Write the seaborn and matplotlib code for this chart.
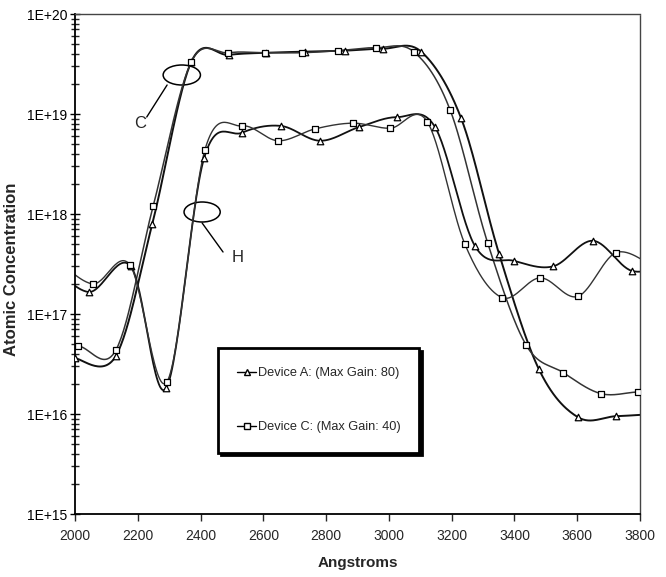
import numpy as np
import matplotlib
matplotlib.use("Agg")
import matplotlib.pyplot as plt
import seaborn as sns
from matplotlib.lines import Line2D
from matplotlib.patches import Ellipse

# Values (x in Angstroms, y in atoms/cm3)
# points outside 2000-3800 are there only so the curve runs to the frame
c_dev_a_x = [2000, 2130, 2246, 2370, 2490, 2610, 2733, 2860, 2981, 3103, 3230, 3351, 3478, 3602, 3723, 3846]
c_dev_a_y = [3.6e16, 3.8e16, 7.9e17, 3.3e19, 3.9e19, 4.1e19, 4.2e19, 4.3e19, 4.5e19, 4.2e19, 9.1e18, 4.0e17, 2.8e16, 9.3e15, 9.5e15, 1.0e16]

c_dev_c_x = [1891, 2010, 2131, 2249, 2370, 2487, 2605, 2723, 2838, 2959, 3079, 3195, 3315, 3437, 3555, 3675, 3793, 3912]
c_dev_c_y = [5.5e16, 4.8e16, 4.4e16, 1.2e18, 3.3e19, 4.1e19, 4.1e19, 4.1e19, 4.3e19, 4.6e19, 4.2e19, 1.1e19, 5.1e17, 4.9e16, 2.6e16, 1.6e16, 1.66e16, 1.7e16]

h_dev_a_x = [1921, 2045, 2178, 2290, 2411, 2532, 2656, 2781, 2905, 3026, 3147, 3274, 3399, 3524, 3650, 3774, 3898]
h_dev_a_y = [3.2e17, 1.66e17, 3.0e17, 1.8e16, 3.6e18, 6.5e18, 7.6e18, 5.4e18, 7.4e18, 9.3e18, 7.4e18, 4.8e17, 3.4e17, 3.0e17, 5.4e17, 2.7e17, 3.2e17]

h_dev_c_x = [1938, 2057, 2175, 2293, 2414, 2532, 2647, 2765, 2886, 3004, 3122, 3242, 3360, 3482, 3602, 3723, 3842]
h_dev_c_y = [3.6e17, 2.0e17, 3.1e17, 2.1e16, 4.4e18, 7.6e18, 5.4e18, 7.1e18, 8.1e18, 7.2e18, 8.4e18, 5.0e17, 1.46e17, 2.3e17, 1.5e17, 4.1e17, 3.0e17]

legend_labels = ["Device A: (Max Gain: 80)", "Device C: (Max Gain: 40)"]
x_ticks = [2000, 2200, 2400, 2600, 2800, 3000, 3200, 3400, 3600, 3800]
y_ticks = [1e15, 1e16, 1e17, 1e18, 1e19, 1e20]
y_tick_labels = ["1E+15", "1E+16", "1E+17", "1E+18", "1E+19", "1E+20"]


def smooth(xs, ys, n=30):
    # Excel style smoothed line (Catmull-Rom through the points, log scale)
    x = np.asarray(xs, float)
    y = np.log10(np.asarray(ys, float))
    px = np.concatenate([[x[0]], x, [x[-1]]])
    py = np.concatenate([[y[0]], y, [y[-1]]])
    t = np.linspace(0, 1, n, endpoint=False)
    out_x, out_y = [], []
    for i in range(1, len(px) - 2):
        for p, out in ((px, out_x), (py, out_y)):
            p0, p1, p2, p3 = p[i - 1], p[i], p[i + 1], p[i + 2]
            out.extend(0.5 * (2 * p1 + (p2 - p0) * t
                              + (2 * p0 - 5 * p1 + 4 * p2 - p3) * t ** 2
                              + (3 * p1 - p0 - 3 * p2 + p3) * t ** 3))
    out_x.append(x[-1])
    out_y.append(y[-1])
    return np.array(out_x), 10 ** np.array(out_y)


sns.set_style("ticks")
plt.rcParams["font.family"] = ["Liberation Sans", "DejaVu Sans"]

fig = plt.figure(figsize=(6.66, 5.77), dpi=100)
ax = fig.add_axes([75 / 666, 63 / 577, 565 / 666, 500 / 577])
ax.set_yscale("log")

series = [
    (c_dev_a_x, c_dev_a_y, "^", "#111111", 1.4),
    (c_dev_c_x, c_dev_c_y, "s", "#333333", 1.1),
    (h_dev_a_x, h_dev_a_y, "^", "#111111", 1.3),
    (h_dev_c_x, h_dev_c_y, "s", "#333333", 1.0),
]
for xs, ys, mk, col, lw in series:
    sx, sy = smooth(xs, ys)
    sns.lineplot(x=sx, y=sy, ax=ax, sort=False, estimator=None, color=col, lw=lw)
    sns.scatterplot(x=xs, y=ys, ax=ax, marker=mk, s=22, facecolor="white",
                    edgecolor="black", linewidth=0.9, zorder=3)

ax.set_xlim(2000, 3800)
ax.set_ylim(1e15, 1e20)
ax.set_xticks(x_ticks)
ax.set_xticklabels([str(v) for v in x_ticks], fontsize=10)
ax.set_yticks(y_ticks)
ax.set_yticklabels(y_tick_labels, fontsize=10)
ax.yaxis.set_minor_locator(matplotlib.ticker.LogLocator(base=10, subs=np.arange(2, 10)))
ax.yaxis.set_minor_formatter(matplotlib.ticker.NullFormatter())
ax.tick_params(axis="y", which="major", direction="inout", length=7, width=1, pad=2, colors="black")
ax.tick_params(axis="y", which="minor", direction="inout", length=6, width=1)
ax.tick_params(axis="x", which="major", direction="out", length=5, width=1, pad=6)

for side in ["left", "bottom"]:
    ax.spines[side].set_color("black")
    ax.spines[side].set_linewidth(1.3)
for side in ["top", "right"]:
    ax.spines[side].set_visible(True)
    ax.spines[side].set_color("#444444")
    ax.spines[side].set_linestyle((0, (1, 1)))
    ax.spines[side].set_linewidth(1.0)

ax.set_ylabel("Atomic Concentration", fontsize=12, fontweight="bold")
ax.yaxis.set_label_coords(-(75 - 19) / 565, 0.49)
ax.set_xlabel("Angstroms", fontsize=11, fontweight="bold")
ax.xaxis.set_label_coords(0.5, -(556 - 514) / 500)

# C and H callouts
ax.add_patch(Ellipse((0.189, 0.878), 0.066, 0.04, transform=ax.transAxes,
                     fill=False, ec="black", lw=1.1))
ax.plot([0.163, 0.127], [0.858, 0.794], transform=ax.transAxes, color="black", lw=1)
ax.text(0.115, 0.782, "C", transform=ax.transAxes, fontsize=12, ha="center", va="center")
ax.add_patch(Ellipse((0.225, 0.604), 0.064, 0.04, transform=ax.transAxes,
                     fill=False, ec="black", lw=1.1))
ax.plot([0.225, 0.262], [0.582, 0.524], transform=ax.transAxes, color="black", lw=1)
ax.text(0.288, 0.514, "H", transform=ax.transAxes, fontsize=12, ha="center", va="center")

handles = [
    Line2D([], [], color="black", lw=1, marker="^", ms=4.5, mfc="white", mec="black"),
    Line2D([], [], color="black", lw=1, marker="s", ms=4, mfc="white", mec="black"),
]
leg = ax.legend(handles, legend_labels, loc="upper left", bbox_to_anchor=(0.253, 0.332),
                borderaxespad=0, fontsize=9.2, handlelength=1.5, handletextpad=0.1,
                borderpad=1.5, labelspacing=3.3, frameon=True, fancybox=False,
                shadow={"color": "black", "alpha": 1})
leg.get_frame().set_edgecolor("black")
leg.get_frame().set_linewidth(2)

fig.savefig("out.png", dpi=100, facecolor="white")
